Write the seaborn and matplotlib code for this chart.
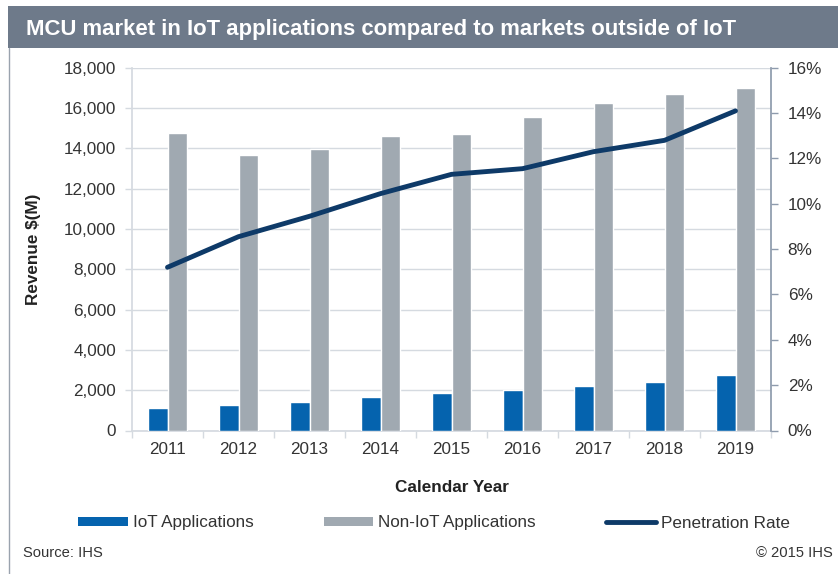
import numpy as np
import pandas as pd
import matplotlib
matplotlib.use("Agg")
import matplotlib.pyplot as plt
import seaborn as sns
from matplotlib.patches import Rectangle, Patch
from matplotlib.lines import Line2D
from matplotlib.ticker import FuncFormatter, MultipleLocator

years = ["2011", "2012", "2013", "2014", "2015", "2016", "2017", "2018", "2019"]
iot = [1130, 1250, 1430, 1660, 1870, 2010, 2230, 2420, 2760]
non_iot = [14760, 13670, 13990, 14630, 14730, 15570, 16230, 16680, 16990]
penetration = [7.2, 8.55, 9.45, 10.45, 11.3, 11.55, 12.3, 12.8, 14.1]
series_names = ["IoT Applications", "Non-IoT Applications"]
line_name = "Penetration Rate"

C_IOT = "#0563AE"
C_NON = "#A0A9B1"
C_LINE = "#0E3A68"
C_TEXT = "#333333"
C_GRID = "#D5DAE0"

sns.set_theme(style="white")
plt.rcParams["font.family"] = ["Liberation Sans", "DejaVu Sans"]

df = pd.DataFrame({"Year": years * 2,
                   "Revenue": iot + non_iot,
                   "Series": [series_names[0]] * len(years) + [series_names[1]] * len(years)})

W, H = 838, 574
fig = plt.figure(figsize=(W / 100, H / 100), dpi=100)
ax = fig.add_axes([132 / W, (H - 430.5) / H, (771 - 132) / W, (430.5 - 67.8) / H])

sns.barplot(data=df, x="Year", y="Revenue", hue="Series", palette=[C_IOT, C_NON],
            width=0.56, gap=0, saturation=1, ax=ax, legend=False, zorder=3)
ax.set_ylim(0, 18000)
ax.set_xlim(-0.5, len(years) - 0.5)
ax.yaxis.set_major_locator(MultipleLocator(2000))
ax.yaxis.set_major_formatter(FuncFormatter(lambda v, p: f"{int(v):,}"))
ax.grid(axis="y", color=C_GRID, linewidth=1.0, zorder=0)
ax.set_axisbelow(True)
for s in ["top", "right"]:
    ax.spines[s].set_visible(False)
ax.spines["left"].set_color(C_GRID)
ax.spines["bottom"].set_color(C_GRID)
ax.tick_params(axis="y", which="major", length=5, color=C_GRID, width=1, labelsize=12.3,
               labelcolor=C_TEXT, pad=6.5, left=True)
ax.set_xticks(np.arange(len(years)))
ax.set_xticklabels(years)
ax.set_xticks(np.arange(len(years) + 1) - 0.5, minor=True)
ax.tick_params(axis="x", which="major", length=0, labelsize=12.3, labelcolor=C_TEXT, pad=8)
ax.tick_params(axis="x", which="minor", length=5, color=C_GRID, width=1, bottom=True)
ax.set_xlabel("Calendar Year", fontsize=12.3, fontweight="bold", color="#222222", labelpad=17)
ax.set_ylabel("Revenue $(M)", fontsize=12.3, fontweight="bold", color="#222222", labelpad=16)

ax2 = ax.twinx()
sns.lineplot(x=np.arange(len(years)), y=penetration, ax=ax2, color=C_LINE, linewidth=3.5,
             zorder=5, legend=False)
ax2.set_ylim(0, 16)
ax2.yaxis.set_major_locator(MultipleLocator(2))
ax2.yaxis.set_major_formatter(FuncFormatter(lambda v, p: f"{int(v)}%"))
for s in ["top", "left", "bottom"]:
    ax2.spines[s].set_visible(False)
ax2.spines["right"].set_color("#8E9BAD")
ax2.tick_params(axis="y", length=5, color="#8E9BAD", width=1, labelsize=12.3, labelcolor=C_TEXT,
                pad=7, right=True)
ax2.set_ylabel("")
ax2.grid(False)

# banner and frame
fig.patches.append(Rectangle((8 / W, 1 - 48 / H), 1 - 8 / W, 42 / H, transform=fig.transFigure,
                             facecolor="#6E7A8A", edgecolor="none", zorder=0))
fig.text(26 / W, 1 - 35 / H, "MCU market in IoT applications compared to markets outside of IoT",
         color="white", fontsize=15.9, fontweight="bold", va="baseline", ha="left")
fig.lines.append(Line2D([8.5 / W, 8.5 / W], [0, 1 - 48 / H], transform=fig.transFigure,
                        color="#9AA3AE", linewidth=1))

handles = [Patch(facecolor=C_IOT, edgecolor="none"),
           Patch(facecolor=C_NON, edgecolor="none"),
           Line2D([0], [0], color=C_LINE, linewidth=3.5)]
fig.legend(handles, series_names + [line_name], loc="center", bbox_to_anchor=(434 / W, 1 - 523 / H),
           ncol=3, frameon=False, fontsize=12.3, handlelength=2.9, handleheight=0.4,
           handletextpad=0.3, columnspacing=4.1, labelcolor=C_TEXT)

fig.text(23 / W, 1 - 553 / H, "Source: IHS", fontsize=10.6, color=C_TEXT, va="center", ha="left")
fig.text(833 / W, 1 - 553 / H, "\u00a9 2015 IHS", fontsize=10.6, color=C_TEXT, va="center", ha="right")

fig.savefig("out.png", dpi=100)
